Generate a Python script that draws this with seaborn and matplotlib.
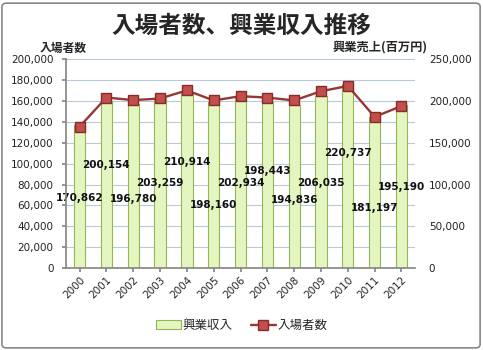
import matplotlib
matplotlib.use("Agg")
import matplotlib.pyplot as plt
import seaborn as sns
import pandas as pd
from matplotlib.patches import Patch, FancyBboxPatch
from matplotlib.lines import Line2D

years = ["2000", "2001", "2002", "2003", "2004", "2005", "2006",
         "2007", "2008", "2009", "2010", "2011", "2012"]
revenue = [170862, 200154, 196780, 203259, 210914, 198160, 202934,
           198443, 194836, 206035, 220737, 181197, 195190]
attendance = [135390, 163280, 160767, 162347, 170092, 160453, 164585,
              163193, 160491, 169297, 174358, 144726, 155159]
title = "入場者数、興業収入推移"
left_label = "入場者数"
right_label = "興業売上(百万円)"
bar_name = "興業収入"
line_name = "入場者数"

sns.set_theme(style="white")
plt.rcParams['font.family'] = ['Noto Sans CJK JP', 'DejaVu Sans']
NUMFONT = "DejaVu Sans"

df = pd.DataFrame({"year": years, "revenue": revenue, "attendance": attendance})

fig = plt.figure(figsize=(4.83, 3.5), dpi=100)
ax = fig.add_axes([0.137, 0.234, 0.722, 0.597])

bar_fc = "#e3f6c0"
bar_ec = "#93b552"
sns.barplot(data=df, x="year", y="revenue", ax=ax, color=bar_fc,
            edgecolor=bar_ec, linewidth=0.8, width=0.42, saturation=1)
ax.set_xlabel("")
ax.set_ylabel("")

ax2 = ax.twinx()
line_c = "#953735"
sns.pointplot(data=df, x="year", y="attendance", ax=ax2, color=line_c,
              marker="s", markersize=7, linewidth=1.7)
for ln in ax2.lines:
    ln.set_markerfacecolor("#c0504d")
    ln.set_markeredgecolor("#8a2a28")
    ln.set_markeredgewidth(1.0)

# bar axis -> right scale
ax.set_ylim(0, 250000)
ax.yaxis.tick_right()
ax.set_yticks(range(0, 250001, 50000))
ax.set_yticks(range(0, 250001, 25000), minor=True)
ax.set_yticklabels([f"{v:,}" for v in range(0, 250001, 50000)], family=NUMFONT)
ax.grid(axis="y", which="both", color="#b8c9dd", linewidth=0.8)
ax.set_axisbelow(True)
ax.tick_params(axis="y", which="both", length=0, labelsize=7.5, pad=10,
               labelcolor="#222222", left=False, labelleft=False,
               right=True, labelright=True)
ax.tick_params(axis="x", length=3, direction="out", color="#888888", labelsize=7.5, pad=2,
               bottom=True)
for lab in ax.get_xticklabels():
    lab.set_rotation(45)
    lab.set_ha("right")
    lab.set_rotation_mode("anchor")
    lab.set_family(NUMFONT)
for side in ["top", "right", "left"]:
    ax.spines[side].set_visible(False)
ax.spines["bottom"].set_color("#888888")

# data labels (manually placed, as in the source)
label_h = [83700, 123200, 82500, 101700, 126800, 75400, 101700,
           116000, 81300, 101700, 137600, 71800, 96900]
for i, (v, h) in enumerate(zip(revenue, label_h)):
    ax.text(i, h, f"{v:,}", ha="center", va="center", fontsize=7.5,
            fontweight="bold", color="#111111", family=NUMFONT, zorder=5)

# line axis -> left scale
ax2.set_ylim(0, 200000)
ax2.set_yticks(range(0, 200001, 20000))
ax2.set_yticklabels([f"{v:,}" for v in range(0, 200001, 20000)], family=NUMFONT)
ax2.tick_params(axis="y", length=3, direction="out", color="#888888",
                labelsize=7.5, pad=6, labelcolor="#222222",
                left=True, labelleft=True, right=False, labelright=False)
ax2.set_xlabel("")
ax2.set_ylabel("")
ax2.grid(False)
for side in ["top", "right", "bottom"]:
    ax2.spines[side].set_visible(False)
ax2.spines["left"].set_visible(True)
ax2.spines["left"].set_color("#888888")
ax2.set_xlim(ax.get_xlim())

fig.text(0.5, 0.927, title, ha="center", va="center", fontsize=17, fontweight="bold")
fig.text(0.083, 0.862, left_label, ha="left", va="center", fontsize=8.5, fontweight="bold")
fig.text(0.689, 0.862, right_label, ha="left", va="center", fontsize=8.8, fontweight="bold")

handles = [Patch(facecolor=bar_fc, edgecolor=bar_ec, linewidth=0.8),
           Line2D([0], [0], color=line_c, lw=1.7, marker="s", markersize=7,
                  markerfacecolor="#c0504d", markeredgecolor="#8a2a28")]
fig.legend(handles, [bar_name, line_name], loc="center", bbox_to_anchor=(0.5, 0.07),
           ncol=2, frameon=False, fontsize=9, handlelength=2.0, handletextpad=0.1,
           columnspacing=1.5)

border = FancyBboxPatch((0.004, 0.006), 0.99, 0.985, boxstyle="round,pad=0,rounding_size=0.01",
                        transform=fig.transFigure, facecolor="none", edgecolor="#888888",
                        linewidth=1.2)
fig.patches.append(border)

fig.savefig("out.png", dpi=100)
